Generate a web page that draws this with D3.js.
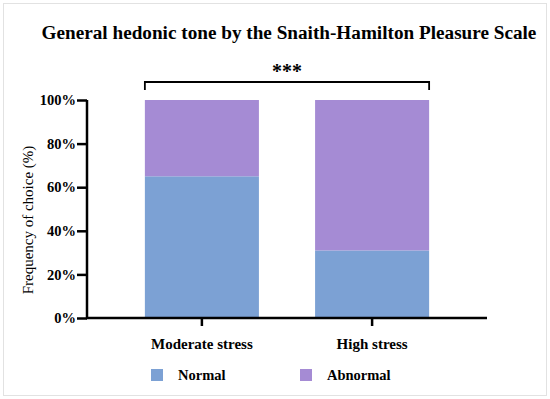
<!DOCTYPE html>
<meta charset="utf-8">
<script src="https://d3js.org/d3.v7.min.js"></script>
<style>
  body { margin: 0; background: #fff; }
  text { font-family: "Liberation Serif", "DejaVu Serif", serif; }
</style>
<body>
<div id="chart"></div>
<script>
// data
var groups = ["Moderate stress", "High stress"];
var normal = [65, 31];
var abnormal = [35, 69];
var series = ["Normal", "Abnormal"];
var colors = ["#7ca1d4", "#a58bd4"];
var yTicks = [0, 20, 40, 60, 80, 100];

var W = 550, H = 399;
var margin = { top: 100, right: 63, bottom: 81, left: 87 };
var width = W - margin.left - margin.right;
var height = H - margin.top - margin.bottom;

var svg = d3.select("#chart").append("svg")
    .attr("width", W)
    .attr("height", H);

// frame
svg.append("rect")
    .attr("x", 3.5).attr("y", 3.5)
    .attr("width", 543).attr("height", 392)
    .attr("fill", "none")
    .attr("stroke", "#e2e2e2");

svg.append("text")
    .attr("x", 289).attr("y", 39)
    .attr("text-anchor", "middle")
    .style("font-size", "19.2px")
    .style("font-weight", "bold")
    .text("General hedonic tone by the Snaith-Hamilton Pleasure Scale");

var g = svg.append("g")
    .attr("transform", "translate(" + margin.left + "," + margin.top + ")");

var x = d3.scaleBand()
    .domain(groups)
    .range([0, width])
    .paddingInner(0.33)
    .paddingOuter(0.34);

var y = d3.scaleLinear()
    .domain([0, 100])
    .range([height, 0]);

var rows = groups.map(function(d, i) {
  return { group: d, Normal: normal[i], Abnormal: abnormal[i] };
});
var stacked = d3.stack().keys(series)(rows);

g.selectAll("g.layer")
  .data(stacked)
  .enter().append("g")
    .attr("class", "layer")
    .attr("fill", function(d, i) { return colors[i]; })
  .selectAll("rect")
  .data(function(d) { return d; })
  .enter().append("rect")
    .attr("x", function(d) { return x(d.data.group); })
    .attr("y", function(d) { return y(d[1]); })
    .attr("width", x.bandwidth())
    .attr("height", function(d) { return y(d[0]) - y(d[1]); });

// axes
var yAxis = g.append("g")
    .call(d3.axisLeft(y).tickValues(yTicks).tickSize(10).tickFormat(function(d) { return d + "%"; }));
var xAxis = g.append("g")
    .attr("transform", "translate(0," + height + ")")
    .call(d3.axisBottom(x).tickSize(8).tickPadding(12));

[xAxis, yAxis].forEach(function(a) {
  a.select(".domain").attr("stroke", "#000").attr("stroke-width", 2.5);
  a.selectAll(".tick line").attr("stroke", "#000").attr("stroke-width", 2.5);
  a.selectAll(".tick text")
    .attr("fill", "#000")
    .style("font-family", "Liberation Serif, serif")
    .style("font-weight", "bold");
});
yAxis.select(".domain").attr("d", "M0," + (height + 1) + "V0");
yAxis.selectAll(".tick text").style("font-size", "14.5px").attr("x", -11);
xAxis.select(".domain").attr("d", "M-1,0H" + width);
xAxis.selectAll(".tick text").style("font-size", "15px");

g.append("text")
    .attr("transform", "translate(-54," + (height / 2 + 11) + ") rotate(-90)")
    .attr("text-anchor", "middle")
    .style("font-size", "15px")
    .text("Frequency of choice (%)");

// significance bracket
var bx0 = x(groups[0]), bx1 = x(groups[1]) + x.bandwidth();
g.append("path")
    .attr("d", "M" + bx0 + "," + (-10) + "V" + (-18) + "H" + bx1 + "V" + (-10))
    .attr("fill", "none")
    .attr("stroke", "#000")
    .attr("stroke-width", 1.8);
g.append("text")
    .attr("x", (bx0 + bx1) / 2).attr("y", -22)
    .attr("text-anchor", "middle")
    .style("font-size", "20px")
    .style("font-weight", "bold")
    .text("***");

// legend
var legendX = [151, 300];
var legend = svg.selectAll("g.legend")
  .data(series)
  .enter().append("g")
    .attr("class", "legend")
    .attr("transform", function(d, i) { return "translate(" + legendX[i] + ",369)"; });
legend.append("rect")
    .attr("width", 12).attr("height", 12)
    .attr("fill", function(d, i) { return colors[i]; });
legend.append("text")
    .attr("x", 27).attr("y", 11)
    .style("font-size", "14.5px")
    .style("font-weight", "bold")
    .text(function(d) { return d; });
</script>
</body>
